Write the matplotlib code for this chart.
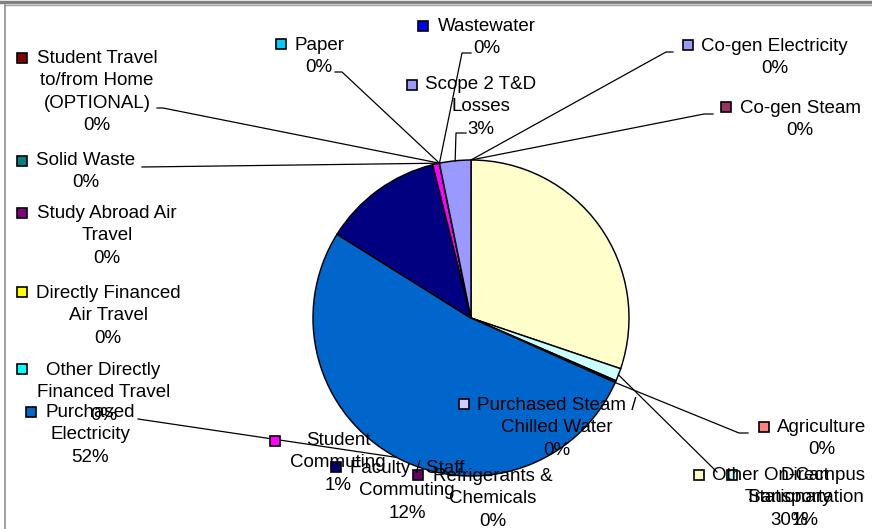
import matplotlib
matplotlib.use('Agg')
import matplotlib.pyplot as plt
import numpy as np

# slices in clockwise order, starting at 12 o'clock
categories = ['Co-gen Electricity', 'Co-gen Steam', 'Other On-Campus\nStationary',
              'Direct\nTransportation', 'Refrigerants &\nChemicals', 'Agriculture',
              'Purchased\nElectricity', 'Purchased Steam /\nChilled Water',
              'Faculty / Staff\nCommuting', 'Student\nCommuting',
              'Directly Financed\nAir Travel', 'Other Directly\nFinanced Travel',
              'Study Abroad Air\nTravel', 'Student Travel\nto/from Home\n(OPTIONAL)',
              'Solid Waste', 'Wastewater', 'Paper', 'Scope 2 T&D\nLosses']
shares = [0, 0, 30.2, 1.3, 0.2, 0, 52.2, 0, 12.2, 0.7, 0, 0, 0, 0, 0, 0, 0, 3.2]
colors = ['#9999FF', '#993366', '#FFFFCC', '#CCFFFF', '#660066', '#FF8080',
          '#0066CC', '#CCCCFF', '#000080', '#FF00FF', '#FFFF00', '#00FFFF',
          '#800080', '#800000', '#008080', '#0000FF', '#00CCFF', '#9999FF']

W, H = 872, 529
# label layout in pixels: text centre x, first baseline y, legend key x, y
label_pos = [(774.5, 53, 688, 45), (800, 115, 726, 107), (789, 482, 699, 475),
             (805, 482, 732, 475), (493, 483, 418, 475), (822, 434, 764, 427),
             (90, 419, 31, 412), (557, 412, 464, 404), (407, 475, 336, 467),
             (338, 447, 275, 441), (108, 300, 22, 292), (103.5, 377, 22, 369),
             (107, 220, 22, 213), (97, 65, 22, 58), (86, 167, 22, 161),
             (486.5, 33, 423, 26), (319, 52, 281, 44), (480.5, 91, 412, 85)]
# leader lines: label side points, the pie end is added from the wedge
leaders = {0: [(673, 52), (666, 52)], 1: [(713, 114), (704, 114)],
           3: [(717, 472)], 5: [(748, 433), (739, 433)], 6: [(138, 419)],
           13: [(157, 108), (163, 108)], 14: [(142, 167)],
           15: [(471, 53), (462, 53)], 16: [(335, 72), (342, 72)],
           17: [(466, 133), (456, 133)]}

cx, cy, r = 471, H - 318, 158

fig = plt.figure(figsize=(W / 100, H / 100), dpi=100)
ax = fig.add_axes([0, 0, 1, 1])
wedges, _ = ax.pie(shares, colors=colors, startangle=90, counterclock=False,
                   center=(cx, cy), radius=r,
                   wedgeprops=dict(edgecolor='black', linewidth=1.05))
ax.set_xlim(0, W)
ax.set_ylim(0, H)
ax.set_aspect('equal')
ax.axis('off')

font = dict(family=['Liberation Sans', 'DejaVu Sans'], size=13.5)

for i, (name, v) in enumerate(zip(categories, shares)):
    tx, ty, mx, my = label_pos[i]
    # top of the text box sits about one ascent above the first baseline
    ax.text(tx, H - (ty - 15), name + '\n' + '%d%%' % round(v), ha='center',
            va='top', multialignment='center', linespacing=1.41, **font)
    ax.plot(mx, H - my, marker='s', ms=6.8, mfc=colors[i], mec='black',
            mew=1.2, ls='none')
    if i in leaders:
        w = wedges[i]
        a = np.deg2rad((w.theta1 + w.theta2) / 2)
        pts = [(x, H - y) for x, y in leaders[i]] + [(cx + r * np.cos(a), cy + r * np.sin(a))]
        xs, ys = zip(*pts)
        ax.plot(xs, ys, color='black', lw=0.9)

# chart area border (clipped Excel frame)
ax.plot([0, W], [H - 1.5, H - 1.5], color='#808080', lw=2.5, clip_on=False)
ax.plot([5, W], [H - 5, H - 5], color='#a0a0a0', lw=1.0)
ax.plot([5, 5], [H - 5, 0], color='#909090', lw=1.2)

plt.savefig('out.png', dpi=100)
